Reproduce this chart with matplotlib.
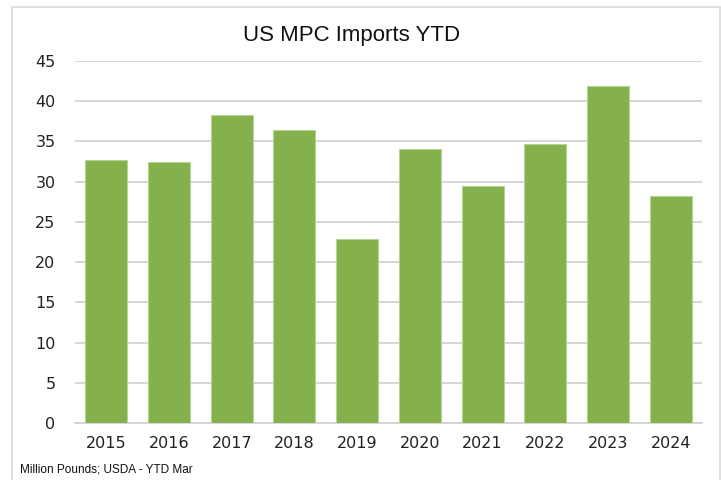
import matplotlib
matplotlib.use("Agg")
import matplotlib.pyplot as plt
from matplotlib.patches import Rectangle

years = ["2015", "2016", "2017", "2018", "2019", "2020", "2021", "2022", "2023", "2024"]
imports = [32.7, 32.5, 38.3, 36.4, 22.9, 34.0, 29.4, 34.7, 41.9, 28.2]
yticks = [0, 5, 10, 15, 20, 25, 30, 35, 40, 45]

fig = plt.figure(figsize=(7.21, 4.80), dpi=100)
ax = fig.add_axes([75/721, 1 - 423/480, (702 - 75)/721, (423 - 61)/480])

x = range(len(years))
ax.bar(x, imports, width=0.67, color="#84B14B", edgecolor="#B5D394", linewidth=0.8, zorder=3)
ax.set_xlim(-0.5, len(years) - 0.5)
ax.set_ylim(0, 45)
ax.set_yticks(yticks)
ax.set_xticks(list(x))
ax.set_xticklabels(years)
ax.yaxis.grid(True, color="#D0D0D0", linewidth=1.2, zorder=0)
ax.set_axisbelow(True)
for s in ["top", "right", "left"]:
    ax.spines[s].set_visible(False)
ax.spines["bottom"].set_color("#D0D0D0")
ax.spines["bottom"].set_linewidth(1.2)
ax.tick_params(axis="both", length=0, labelsize=11.5, colors="#222222")
ax.tick_params(axis="y", pad=14)
ax.tick_params(axis="x", pad=9)

fig.text(352/721, 1 - 36/480, "US MPC Imports YTD", ha="center", va="center",
         fontsize=16, family=["Liberation Sans", "DejaVu Sans"], color="#111111")
fig.text(20/721, 1 - 469/480, "Million Pounds; USDA - YTD Mar", ha="left", va="center",
         fontsize=8.5, family=["Liberation Sans", "DejaVu Sans"], color="#111111")

fig.patches.append(Rectangle((12/721, -0.05), (720 - 12)/721, 1.05 - 7/480,
                             transform=fig.transFigure, fill=False,
                             edgecolor="#D9D9D9", linewidth=1.2))

fig.savefig("out.png", dpi=100)
